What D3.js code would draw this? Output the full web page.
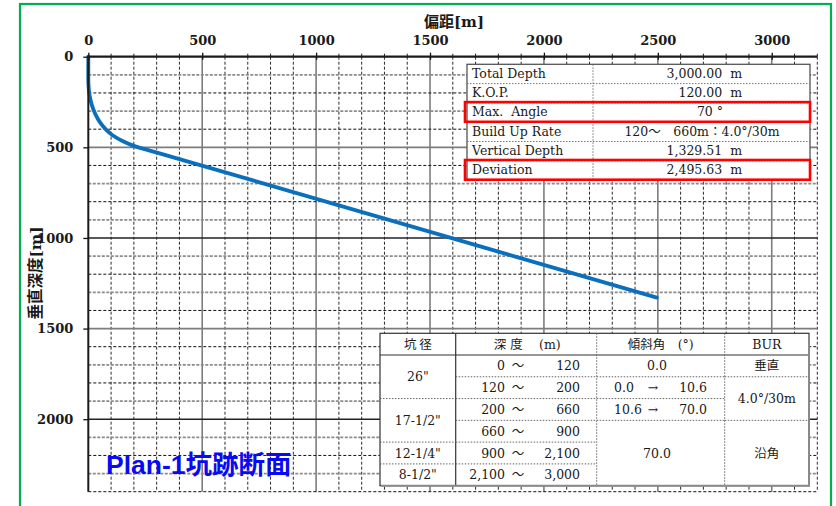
<!DOCTYPE html>
<html>
<head>
<meta charset="utf-8">
<script src="https://cdn.jsdelivr.net/npm/d3@7/dist/d3.min.js"></script>
<style>
  html, body { margin: 0; padding: 0; background: #fff; }
  svg { display: block; }
  text { white-space: pre; }
</style>
</head>
<body>
<svg id="chart" width="836" height="506"></svg>
<script>
// Well trajectory section: horizontal displacement vs. true vertical depth (m)
const displacement = [0, 0, 1, 4, 10, 19, 32, 50, 76, 108, 150, 200, 290, 2495.63];
const verticalDepth = [0, 120, 160, 200, 240, 280, 320, 360, 400, 435, 465, 492, 525, 1329.51];

const xTickValues = [0, 500, 1000, 1500, 2000, 2500, 3000];
const yTickValues = [0, 500, 1000, 1500, 2000];

// Well summary
const summaryLabels = ["Total Depth", "K.O.P.", "Max.  Angle", "Build Up Rate", "Vertical Depth", "Deviation"];
const summaryValues = ["3,000.00  m", "120.00  m", "70 °", "120～　660m：4.0°/30m", "1,329.51  m", "2,495.63  m"];
const summaryHighlighted = [2, 5];

// Casing / inclination program
const tableHeaders = ["坑 径", "深 度　 (m)", "傾斜角　(°)", "BUR"];
const holeSizes = ['26"', '17-1/2"', '12-1/4"', '8-1/2"'];
const holeRowSpans = [2, 2, 1, 1];
const depthFrom = [0, 120, 200, 660, 900, 2100];
const depthTo = [120, 200, 660, 900, 2100, 3000];
const inclFrom = ["0.0", "0.0", "10.6", "70.0"];
const inclTo = [null, "10.6", "70.0", null];
const inclRowSpans = [1, 1, 1, 3];
const burLabels = ["垂直", "4.0°/30m", "沿角"];
const burRowSpans = [1, 2, 3];

const svg = d3.select("#chart");
const serif = "'DejaVu Serif', 'Noto Sans CJK JP', serif";
const cjk = "'Noto Sans CJK JP', sans-serif";

const plot = { left: 88.3, right: 817.3, top: 56.7, bottom: 491.7 };
const x = d3.scaleLinear().domain([0, 3200]).range([plot.left, plot.right]);
const y = d3.scaleLinear().domain([0, 2400]).range([plot.top, plot.bottom]);

// outer frame
svg.append("rect")
  .attr("x", 20).attr("y", 4).attr("width", 811).attr("height", 530)
  .attr("fill", "none").attr("stroke", "#00b050").attr("stroke-width", 2.2);

// grid
const grid = svg.append("g");
d3.range(100, 3201, 100).forEach(v => {
  const major = v % 500 === 0;
  grid.append("line")
    .attr("x1", x(v)).attr("x2", x(v)).attr("y1", plot.top).attr("y2", plot.bottom)
    .attr("stroke", major ? "#7d7d7d" : "#2a2a2a")
    .attr("stroke-width", major ? 1.6 : 1)
    .attr("stroke-dasharray", major ? null : "3,2");
});
d3.range(100, 2401, 100).forEach(v => {
  const major = v % 500 === 0;
  const even = v % 200 === 0;
  let stroke, width, dash;
  if (major) { stroke = (v % 1000 === 0) ? "#222" : "#7d7d7d"; width = 1.6; dash = null; }
  else if (even) { stroke = "#111"; width = 1; dash = "3,2"; }
  else { stroke = "#8c8c8c"; width = 1.6; dash = "3,1.5"; }
  grid.append("line")
    .attr("x1", plot.left).attr("x2", plot.right).attr("y1", y(v)).attr("y2", y(v))
    .attr("stroke", stroke).attr("stroke-width", width).attr("stroke-dasharray", dash);
});

// trajectory
const pts = displacement.map((d, i) => [d, verticalDepth[i]]);
svg.append("path")
  .datum(pts)
  .attr("fill", "none")
  .attr("stroke", "#0a70bd")
  .attr("stroke-width", 3.8)
  .attr("stroke-linecap", "round")
  .attr("d", d3.line().x(d => x(d[0])).y(d => y(d[1])).curve(d3.curveMonotoneY));

// axes
const plain = d3.format("d");
const topAxis = svg.append("g")
  .attr("transform", `translate(0,${plot.top})`)
  .call(d3.axisTop(x).tickValues(xTickValues).tickFormat(plain)
    .tickSize(4).tickPadding(8).tickSizeOuter(0));
topAxis.select(".domain").remove();
topAxis.selectAll(".tick line").attr("y1", 3).attr("stroke", "#111").attr("stroke-width", 1.3);
topAxis.selectAll(".tick text")
  .attr("font-family", serif).attr("font-weight", "bold").attr("font-size", 13).attr("fill", "#1a1a1a");

// minor ticks on top axis
svg.append("g").selectAll("line")
  .data(d3.range(100, 3201, 100).filter(v => v % 500 !== 0))
  .join("line")
  .attr("x1", d => x(d)).attr("x2", d => x(d))
  .attr("y1", plot.top - 3).attr("y2", plot.top)
  .attr("stroke", "#222").attr("stroke-width", 1);

const leftAxis = svg.append("g")
  .attr("transform", `translate(${plot.left},0)`)
  .call(d3.axisLeft(y).tickValues(yTickValues).tickFormat(plain)
    .tickSize(5).tickPadding(10).tickSizeOuter(0));
leftAxis.select(".domain").remove();
leftAxis.selectAll(".tick line").attr("stroke", "#111").attr("stroke-width", 1.3);
leftAxis.selectAll(".tick text")
  .attr("font-family", serif).attr("font-weight", "bold").attr("font-size", 13).attr("fill", "#1a1a1a");

svg.append("line")
  .attr("x1", plot.left - 1).attr("x2", plot.right).attr("y1", plot.top).attr("y2", plot.top)
  .attr("stroke", "#1a1a1a").attr("stroke-width", 2.2);
svg.append("line")
  .attr("x1", plot.left).attr("x2", plot.left).attr("y1", plot.top).attr("y2", plot.bottom)
  .attr("stroke", "#1a1a1a").attr("stroke-width", 2);

// axis titles
svg.append("text")
  .attr("x", 454).attr("y", 26.5).attr("text-anchor", "middle")
  .attr("font-family", serif).attr("font-weight", "bold").attr("font-size", 15).attr("fill", "#1a1a1a")
  .text("偏距[m]");
svg.append("text")
  .attr("transform", "translate(41,273) rotate(-90)")
  .attr("text-anchor", "middle")
  .attr("font-family", serif).attr("font-weight", "bold").attr("font-size", 15.5).attr("fill", "#1a1a1a")
  .text("垂直深度[m]");

// chart label
svg.append("text")
  .attr("x", 106).attr("y", 473.5)
  .attr("font-family", "'Liberation Sans', 'Noto Sans CJK JP', sans-serif")
  .attr("font-weight", "bold").attr("font-size", 26.5).attr("fill", "#0a0af0")
  .text("Plan-1坑跡断面");

// ---- summary table ----
const t1 = { x0: 467, x1: 810, xDiv: 593, y0: 64.3, rowH: 19.3 };
const g1 = svg.append("g");
g1.append("rect")
  .attr("x", t1.x0).attr("y", t1.y0)
  .attr("width", t1.x1 - t1.x0).attr("height", t1.rowH * summaryLabels.length)
  .attr("fill", "#fff").attr("stroke", "#555").attr("stroke-width", 1.3);
summaryLabels.forEach((lab, i) => {
  const ry = t1.y0 + i * t1.rowH;
  if (i > 0) {
    g1.append("line").attr("x1", t1.x0).attr("x2", t1.x1).attr("y1", ry).attr("y2", ry)
      .attr("stroke", "#666").attr("stroke-width", 0.9).attr("stroke-dasharray", "1.5,1.5");
  }
  g1.append("text").attr("x", 472).attr("y", ry + 13.4)
    .attr("font-family", serif).attr("font-size", 12.5).attr("fill", "#1a1a1a").text(lab);
  const v = summaryValues[i];
  const numeric = /m$/.test(v) && !/：/.test(v);
  g1.append("text")
    .attr("x", numeric ? 742 : (i === 2 ? 710 : 702))
    .attr("y", ry + 13.4)
    .attr("text-anchor", numeric ? "end" : "middle")
    .attr("font-family", serif).attr("font-size", 12.5).attr("fill", "#1a1a1a").text(v);
});
g1.append("line").attr("x1", t1.xDiv).attr("x2", t1.xDiv)
  .attr("y1", t1.y0).attr("y2", t1.y0 + t1.rowH * summaryLabels.length)
  .attr("stroke", "#666").attr("stroke-width", 0.9).attr("stroke-dasharray", "1.5,1.5");
summaryHighlighted.forEach(i => {
  g1.append("rect")
    .attr("x", 465).attr("y", t1.y0 + i * t1.rowH - 0.8)
    .attr("width", 810 - 465).attr("height", t1.rowH + 0.4)
    .attr("fill", "none").attr("stroke", "#ff0000").attr("stroke-width", 2.6);
});

// ---- casing program table ----
const cols = [380, 455.7, 596.7, 724.7, 809];
const headTop = 333.3, headBot = 355, rowH = 21.78;
const rowTop = i => headBot + i * rowH;
const rowMid = (i, span) => headBot + (i + span / 2) * rowH;
const nRows = depthFrom.length;
const g2 = svg.append("g");
const dotted = sel => sel.attr("stroke", "#555").attr("stroke-width", 0.9).attr("stroke-dasharray", "1.5,1.5");
const solid = sel => sel.attr("stroke", "#333").attr("stroke-width", 1.2);
const txt = (xx, yy, s, anchor, font) => g2.append("text")
  .attr("x", xx).attr("y", yy + 4.6).attr("text-anchor", anchor || "middle")
  .attr("font-family", font || serif).attr("font-size", 12.5).attr("fill", "#1a1a1a").text(s);

g2.append("rect").attr("x", cols[0]).attr("y", headTop)
  .attr("width", cols[4] - cols[0]).attr("height", rowTop(nRows) - headTop)
  .attr("fill", "#fff").call(solid);
g2.append("line").attr("x1", cols[0]).attr("x2", cols[4]).attr("y1", headBot).attr("y2", headBot).call(solid);
g2.append("line").attr("x1", cols[1]).attr("x2", cols[1]).attr("y1", headTop).attr("y2", rowTop(nRows)).call(solid);
[cols[2], cols[3]].forEach(cx => g2.append("line")
  .attr("x1", cx).attr("x2", cx).attr("y1", headTop).attr("y2", rowTop(nRows)).call(dotted));
// grey edge along right and bottom
g2.append("path")
  .attr("d", `M${cols[4]},${headTop + 1}V${rowTop(nRows)}H${cols[0] + 1}`)
  .attr("fill", "none").attr("stroke", "#8a8a8a").attr("stroke-width", 2);

// header
const headMid = (headTop + headBot) / 2;
txt((cols[0] + cols[1]) / 2, headMid, tableHeaders[0], "middle", cjk);
txt((cols[1] + cols[2]) / 2 + 1, headMid, tableHeaders[1], "middle", serif);
txt((cols[2] + cols[3]) / 2, headMid, tableHeaders[2], "middle", serif);
txt((cols[3] + cols[4]) / 2, headMid, tableHeaders[3], "middle", serif);

// hole-size column (merged cells)
let r = 0;
holeSizes.forEach((s, k) => {
  const span = holeRowSpans[k];
  txt((cols[0] + cols[1]) / 2, rowMid(r, span), s);
  r += span;
  if (r < nRows) g2.append("line").attr("x1", cols[0]).attr("x2", cols[1])
    .attr("y1", rowTop(r)).attr("y2", rowTop(r)).call(dotted);
});

// depth column
const fmt = d3.format(",");
depthFrom.forEach((d, i) => {
  const cy = rowMid(i, 1);
  txt(505, cy, fmt(d), "end");
  txt(518, cy, "～", "middle", cjk);
  txt(580, cy, fmt(depthTo[i]), "end");
  if (i > 0) g2.append("line").attr("x1", cols[1]).attr("x2", cols[2])
    .attr("y1", rowTop(i)).attr("y2", rowTop(i)).call(dotted);
});

// inclination column
r = 0;
inclFrom.forEach((a, k) => {
  const span = inclRowSpans[k];
  const cy = rowMid(r, span);
  if (inclTo[k] === null) {
    txt(657, cy, a);
  } else {
    txt(614, cy, a, "start");
    txt(653, cy, "→", "middle");
    txt(707, cy, inclTo[k], "end");
  }
  r += span;
  if (r < nRows) g2.append("line").attr("x1", cols[2]).attr("x2", cols[3])
    .attr("y1", rowTop(r)).attr("y2", rowTop(r)).call(dotted);
});

// build-up-rate column
r = 0;
burLabels.forEach((b, k) => {
  const span = burRowSpans[k];
  txt((cols[3] + cols[4]) / 2, rowMid(r, span), b);
  r += span;
  if (r < nRows) g2.append("line").attr("x1", cols[3]).attr("x2", cols[4])
    .attr("y1", rowTop(r)).attr("y2", rowTop(r)).call(dotted);
});
</script>
</body>
</html>
